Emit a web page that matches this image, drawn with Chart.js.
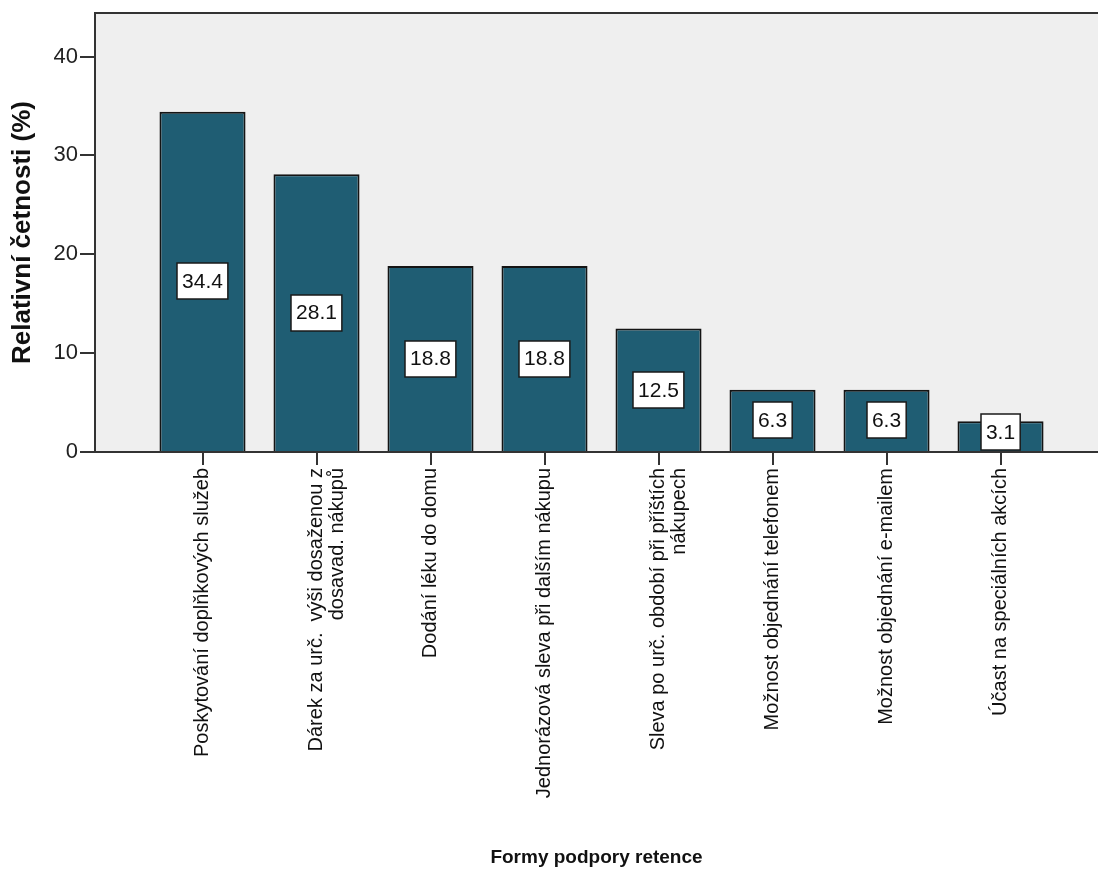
<!DOCTYPE html>
<html lang="cs">
<head>
<meta charset="utf-8">
<title>Formy podpory retence</title>
<script src="https://cdn.jsdelivr.net/npm/chart.js@4/dist/chart.umd.min.js"></script>
<style>
    body { margin: 0; background: #fff; }
    #wrap { width: 1098px; height: 890px; position: relative; }
</style>
</head>
<body>
<div id="wrap"><canvas id="retenceChart"></canvas></div>
<script>
// --- Data ---
const categories = [
    'Poskytování doplňkových služeb',
    ['Dárek za urč.  výši dosaženou z', 'dosavad. nákupů'],
    'Dodání léku do domu',
    'Jednorázová sleva při dalším nákupu',
    ['Sleva po urč. období při příštích', 'nákupech'],
    'Možnost objednání telefonem',
    'Možnost objednání e-mailem',
    'Účast na speciálních akcích'
];
const values = [34.4, 28.1, 18.8, 18.8, 12.5, 6.3, 6.3, 3.1];
const yTicks = [0, 10, 20, 30, 40];

const FONT = "'Liberation Sans', Arial, sans-serif";

// grey plot background + top frame line
const plotFrame = {
    id: 'plotFrame',
    beforeDraw(chart) {
        const { ctx, chartArea: a } = chart;
        ctx.save();
        ctx.fillStyle = '#efefef';
        ctx.fillRect(a.left, a.top, a.right - a.left, a.bottom - a.top);
        ctx.strokeStyle = '#333';
        ctx.lineWidth = 2;
        ctx.beginPath();
        ctx.moveTo(a.left, a.top);
        ctx.lineTo(a.right, a.top);
        ctx.stroke();
        ctx.restore();
    }
};

// white value boxes in the middle of each bar
const valueBoxes = {
    id: 'valueBoxes',
    afterDatasetsDraw(chart) {
        const { ctx, chartArea } = chart;
        const meta = chart.getDatasetMeta(0);
        ctx.save();
        ctx.font = '21px ' + FONT;
        ctx.textAlign = 'center';
        ctx.textBaseline = 'middle';
        meta.data.forEach((bar, i) => {
            const text = values[i].toFixed(1);
            const w = ctx.measureText(text).width + 10;
            const h = 36;
            let cy = (bar.y + bar.base) / 2;
            if (cy + h / 2 > chartArea.bottom - 2) cy = chartArea.bottom - 2 - h / 2;
            const x0 = Math.round(bar.x - w / 2), y0 = Math.round(cy - h / 2);
            ctx.fillStyle = '#fff';
            ctx.fillRect(x0, y0, w, h);
            ctx.strokeStyle = '#1a1a1a';
            ctx.lineWidth = 1.5;
            ctx.strokeRect(x0, y0, w, h);
            ctx.fillStyle = '#111';
            ctx.fillText(text, bar.x, cy + 1);
        });
        ctx.restore();
    }
};

new Chart(document.getElementById('retenceChart'), {
    type: 'bar',
    data: {
        datasets: [{
            data: values.map((v, i) => ({ x: i, y: v })),
            backgroundColor: '#1f5d73',
            borderColor: '#141414',
            borderWidth: 2,
            categoryPercentage: 1,
            barPercentage: 0.755
        }]
    },
    options: {
        responsive: true,
        maintainAspectRatio: false,
        animation: false,
        layout: { padding: { top: 12, right: 0, bottom: 0, left: 0 } },
        plugins: { legend: { display: false }, tooltip: { enabled: false } },
        scales: {
            x: {
                type: 'linear',
                offset: false,
                min: -0.943,
                max: 7.855,
                afterBuildTicks: (scale) => { scale.ticks = categories.map((c, i) => ({ value: i })); },
                afterFit: (scale) => { scale.height = 438; },
                ticks: {
                    autoSkip: false,
                    minRotation: 90,
                    maxRotation: 90,
                    padding: 3,
                    color: '#111',
                    font: { family: FONT, size: 20, lineHeight: 1.05 },
                    callback: (v) => categories[v]
                },
                grid: { offset: false, drawOnChartArea: false, tickLength: 13, color: '#333', lineWidth: 2 },
                border: { display: true, color: '#333', width: 2 },
                title: {
                    display: true,
                    text: 'Formy podpory retence',
                    color: '#111',
                    font: { family: FONT, size: 19, weight: 'bold' },
                    padding: { top: 0, bottom: 21 }
                }
            },
            y: {
                min: 0,
                max: 44.4,
                afterBuildTicks: (scale) => { scale.ticks = yTicks.map(v => ({ value: v })); },
                afterFit: (scale) => { scale.width = 95; },
                ticks: {
                    padding: 2,
                    color: '#222',
                    font: { family: FONT, size: 22, lineHeight: 1 }
                },
                grid: { drawOnChartArea: false, tickLength: 15, color: '#333', lineWidth: 2 },
                border: { display: true, color: '#333', width: 2 },
                title: {
                    display: true,
                    text: 'Relativní četnosti (%)',
                    color: '#111',
                    font: { family: FONT, size: 26, weight: 'bold' },
                    padding: { top: 7, bottom: 0 }
                }
            }
        }
    },
    plugins: [plotFrame, valueBoxes]
});
</script>
</body>
</html>
